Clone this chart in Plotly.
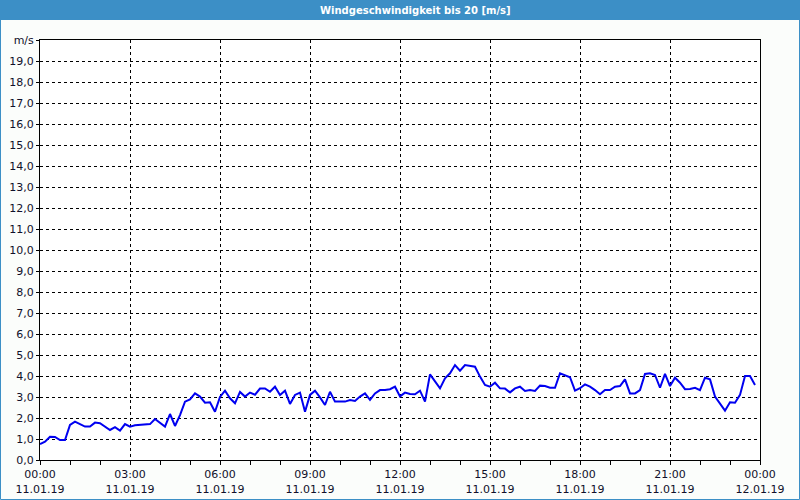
import plotly.graph_objects as go
import pandas as pd

# minutes after 11.01.19 00:00
minutes = list(range(0, 1440, 10))
speed = [
    0.76, 0.87, 1.11, 1.10, 0.95, 0.95, 1.67, 1.83, 1.71, 1.59,
    1.59, 1.78, 1.75, 1.59, 1.43, 1.56, 1.40, 1.71, 1.59, 1.65,
    1.66, 1.68, 1.71, 1.95, 1.78, 1.59, 2.19, 1.62, 2.14, 2.78,
    2.89, 3.17, 3.02, 2.73, 2.75, 2.30, 3.00, 3.30, 2.94, 2.70,
    3.24, 3.02, 3.21, 3.11, 3.40, 3.41, 3.25, 3.49, 3.10, 3.30,
    2.67, 3.10, 3.21, 2.30, 3.10, 3.30, 2.98, 2.62, 3.25, 2.78,
    2.78, 2.78, 2.86, 2.81, 3.02, 3.17, 2.86, 3.17, 3.33, 3.33,
    3.37, 3.49, 3.03, 3.21, 3.14, 3.13, 3.30, 2.78, 4.08, 3.73,
    3.41, 3.89, 4.13, 4.52, 4.25, 4.52, 4.48, 4.44, 3.97, 3.57,
    3.49, 3.68, 3.41, 3.40, 3.22, 3.41, 3.49, 3.29, 3.33, 3.29,
    3.54, 3.52, 3.44, 3.44, 4.13, 4.05, 3.94, 3.30, 3.42, 3.60,
    3.49, 3.33, 3.13, 3.33, 3.33, 3.49, 3.52, 3.84, 3.17, 3.17,
    3.33, 4.10, 4.13, 4.05, 3.44, 4.10, 3.52, 3.92, 3.68, 3.37,
    3.38, 3.44, 3.33, 3.92, 3.84, 3.02, 2.70, 2.35, 2.75, 2.73,
    3.10, 4.00, 4.00, 3.57,
]

x_tick_hours = [0, 3, 6, 9, 12, 15, 18, 21, 24]
x_tick_text = ["00:00<br>11.01.19", "03:00<br>11.01.19", "06:00<br>11.01.19",
               "09:00<br>11.01.19", "12:00<br>11.01.19", "15:00<br>11.01.19",
               "18:00<br>11.01.19", "21:00<br>11.01.19", "00:00<br>12.01.19"]
y_tick_vals = list(range(0, 21))
y_tick_text = [f"{v},0" for v in range(0, 20)] + ["m/s"]

title = "Windgeschwindigkeit bis 20 [m/s]"

start = pd.Timestamp("2019-01-11 00:00")
times = [start + pd.Timedelta(minutes=m) for m in minutes]
tick_times = [start + pd.Timedelta(hours=h) for h in x_tick_hours]

fig = go.Figure()
fig.add_trace(go.Scatter(x=times, y=speed, mode="lines",
                         line=dict(color="#0000f0", width=2), hoverinfo="skip"))

L, R, T, B = 40, 40, 40, 40
W, H = 800, 500
pw, ph = W - L - R, H - T - B

def px(x):
    return (x - L) / pw

def py(y):
    return (H - B - y) / ph

bar_col = "#3c8fc6"
txt_col = "#10102a"
fig.update_layout(
    width=W, height=H,
    margin=dict(l=L, r=R, t=T, b=B, autoexpand=False),
    paper_bgcolor="#fbfdfb",
    plot_bgcolor="#ffffff",
    showlegend=False,
    font=dict(family="DejaVu Sans", size=11, color=txt_col),
    shapes=[
        dict(type="rect", xref="paper", yref="paper", x0=px(0), x1=px(800),
             y0=py(20), y1=py(0), fillcolor=bar_col, line=dict(width=0), layer="below"),
        dict(type="rect", xref="paper", yref="paper", x0=px(0.5), x1=px(799.5),
             y0=py(499.5), y1=py(0.5), line=dict(color=bar_col, width=1), fillcolor="rgba(0,0,0,0)"),
    ],
    annotations=[
        dict(text=f"<b>{title}</b>", xref="paper", yref="paper", x=px(415), y=py(10.5),
             showarrow=False, xanchor="center", yanchor="middle",
             font=dict(family="DejaVu Sans", size=10, color="#ffffff")),
    ],
)

fig.update_xaxes(
    type="date",
    range=[tick_times[0], tick_times[-1]],
    tickvals=tick_times, ticktext=x_tick_text,
    ticks="outside", ticklen=4, tickcolor="#000000",
    showgrid=True, gridcolor="#000000", gridwidth=1, griddash="3px,3px",
    showline=True, linecolor="#000000", linewidth=1, mirror=True,
    minor=dict(dtick=3600000, ticks="outside", ticklen=4, tickcolor="#000000", showgrid=False),
    zeroline=False, fixedrange=True, automargin=False,
    tickfont=dict(size=11, color=txt_col),
)
fig.update_yaxes(
    range=[0, 20],
    tickvals=y_tick_vals, ticktext=y_tick_text,
    ticks="outside", ticklen=3, tickcolor="#000000",
    showgrid=True, gridcolor="#000000", gridwidth=1, griddash="3px,3px",
    showline=True, linecolor="#000000", linewidth=1, mirror=True,
    zeroline=False, fixedrange=True, automargin=False,
    tickfont=dict(size=11, color=txt_col),
)

fig.write_html("out.html")
